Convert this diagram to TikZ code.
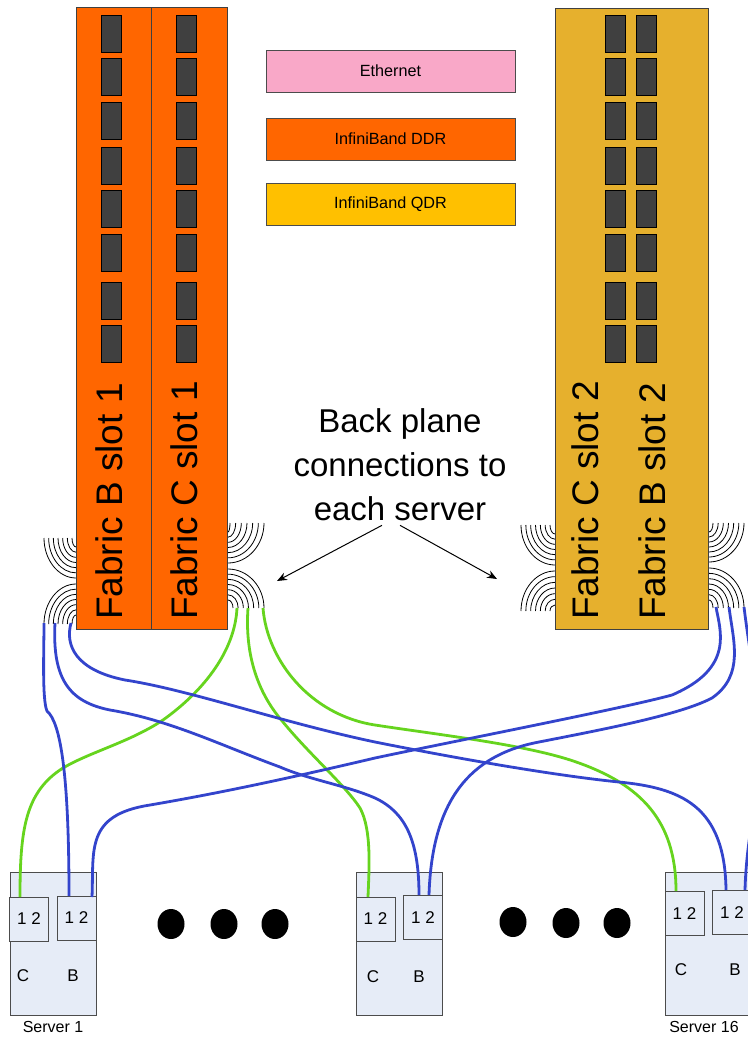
\documentclass[tikz,border=0pt]{standalone}
\usepackage{fontspec}
\setmainfont{Liberation Sans}
\definecolor{ddrorange}{HTML}{FF6600}
\definecolor{qdryellow}{HTML}{FFC000}
\definecolor{ethpink}{HTML}{F9A8C8}
\definecolor{bladegold}{HTML}{E6B02D}
\definecolor{slotgray}{HTML}{404040}
\definecolor{serverblue}{HTML}{E6ECF7}
\definecolor{cablegreen}{HTML}{66D41E}
\definecolor{cableblue}{HTML}{3344CC}
\usetikzlibrary{shapes.geometric,arrows.meta}
\tikzset{
  legendbox/.style={draw=black!70,line width=0.6pt,minimum width=249pt,minimum height=42pt,inner sep=0pt,font=\fontsize{16.2}{18}\selectfont},
  bladelabel/.style={rotate=90,anchor=base west,inner sep=0pt,font=\fontsize{37}{40}\selectfont},
  serverbox/.style={draw=black!70,line width=0.8pt,fill=serverblue,minimum width=86pt,minimum height=143pt,inner sep=0pt},
  portbox/.style={draw=black!70,line width=0.8pt,fill=serverblue,minimum width=39pt,minimum height=44pt,inner sep=0pt,font=\fontsize{17}{18}\selectfont},
  plain/.style={inner sep=0pt,font=\fontsize{17}{18}\selectfont},
  dotmark/.style={ellipse,fill=black,minimum width=27pt,minimum height=30pt,inner sep=0pt},
  greencable/.style={draw=cablegreen,line width=2.8pt},
  bluecable/.style={draw=cableblue,line width=2.8pt},
  pointer/.style={-{Stealth[length=10pt,width=8pt]},line width=1pt},
}
% quarter curves from the blade edge: edge x, free y, free x inner/outer, edge y inner/outer
\newcommand{\plugfan}[6]{
  \foreach \i in {0,...,6}{
    \pgfmathsetmacro{\xa}{#3+(#4-#3)*\i/6}
    \pgfmathsetmacro{\yb}{#5+(#6-#5)*\i/6}
    \draw[line width=0.8pt] (\xa,#2) .. controls (\xa,{#2+0.55*(\yb-#2)}) and ({#1+0.55*(\xa-#1)},\yb) .. (#1,\yb);
  }
}
\begin{document}
\begin{tikzpicture}[x=1pt,y=-1pt]
\useasboundingbox (0,0) rectangle (747,1038);
% fans
\plugfan{76}{538}{72}{44}{547}{578}
\plugfan{76}{624}{72}{44}{615}{584}
\plugfan{228}{523}{230}{264}{532}{563}
\plugfan{228}{608}{233}{264}{600}{569}
\plugfan{555}{525}{550}{521}{534}{565}
\plugfan{555}{611}{550}{521}{605}{571}
\plugfan{709}{523}{713}{744}{532}{562}
\plugfan{709}{608}{713}{744}{600}{568}
% blades
\filldraw[fill=ddrorange,draw=black!75,line width=0.8pt] (76,7) rectangle (151,629);
\filldraw[fill=ddrorange,draw=black!75,line width=0.8pt] (151,7) rectangle (227,629);
\filldraw[fill=bladegold,draw=black!75,line width=0.8pt] (555,8) rectangle (708,629);
\foreach \y in {15,58,102,147,190,234,282,325}{
  \filldraw[fill=slotgray,draw=black,line width=0.8pt] (101,\y) rectangle ++(20,37);
  \filldraw[fill=slotgray,draw=black,line width=0.8pt] (176,\y) rectangle ++(20,37);
  \filldraw[fill=slotgray,draw=black,line width=0.8pt] (605,\y) rectangle ++(20,37);
  \filldraw[fill=slotgray,draw=black,line width=0.8pt] (636,\y) rectangle ++(20,37);
}
\node[bladelabel] (labelb1) at (122.5,620) {Fabric B slot 1};
\node[bladelabel] (labelc1) at (197.5,620) {Fabric C slot 1};
\node[bladelabel] (labelc2) at (598.5,620) {Fabric C slot 2};
\node[bladelabel] (labelb2) at (665.5,620) {Fabric B slot 2};
% legend
\node[legendbox,fill=ethpink] (ethernet) at (390.5,71) {Ethernet};
\node[legendbox,fill=ddrorange] (ddr) at (390.5,139) {InfiniBand DDR};
\node[legendbox,fill=qdryellow] (qdr) at (390.5,204) {InfiniBand QDR};
% back plane
\node[align=center,inner sep=0pt,font=\fontsize{33}{44}\selectfont] (backplane) at (400,465) {Back plane\\connections to\\each server};
\coordinate (ptrleft) at (277,581);
\coordinate (ptrright) at (497,579);
\draw[pointer] ([xshift=-18pt,yshift=-4pt]backplane.south) -- (ptrleft);
\draw[pointer] ([yshift=-4pt]backplane.south) -- (ptrright);
% servers
\node[serverbox] (server1) at (53,943.5) {};
\node[serverbox] (server8) at (399,943.5) {};
\node[serverbox] (server16) at (708,943.5) {};
\node[portbox] (s1c) at (29,919) {1 2};
\node[portbox] (s1b) at (76.5,918) {1 2};
\node[portbox] (s8c) at (375.5,919) {1 2};
\node[portbox] (s8b) at (423,917.5) {1 2};
\node[portbox] (s16c) at (684.5,913.5) {1 2};
\node[portbox] (s16b) at (732,912.5) {1 2};
\node[plain] (s1cname) at (23,976) {C};
\node[plain] (s1bname) at (73,976) {B};
\node[plain] (s8cname) at (373,977) {C};
\node[plain] (s8bname) at (419,977) {B};
\node[plain] (s16cname) at (681,970) {C};
\node[plain] (s16bname) at (735,970) {B};
\node[plain,font=\fontsize{16}{18}\selectfont] (s1name) at (53,1027) {Server 1};
\node[plain,font=\fontsize{16}{18}\selectfont] (s16name) at (704,1027) {Server 16};
\node[dotmark] (dota) at (171,924) {};
\node[dotmark] (dotb) at (224,924) {};
\node[dotmark] (dotc) at (275,924) {};
\node[dotmark] (dotd) at (513,922) {};
\node[dotmark] (dote) at (566,923) {};
\node[dotmark] (dotf) at (617,923) {};
% cable ends
\coordinate (gl1) at (237,608);
\coordinate (gl2) at (248,608);
\coordinate (gl3) at (263,608);
\coordinate (bl1) at (44,623);
\coordinate (bl2) at (55,623);
\coordinate (bl3) at (71,623);
\coordinate (br1) at (716,607);
\coordinate (br2) at (729,607);
\coordinate (br3) at (744,607);
\coordinate (brout) at (760,720);
\coordinate (s1c1) at (20,897);
\coordinate (s1b1) at (69,896);
\coordinate (s1b2) at (92,897);
\coordinate (s8c1) at (368,897);
\coordinate (s8b1) at (419,895);
\coordinate (s8b2) at (429,895);
\coordinate (s16c1) at (676,891);
\coordinate (s16b1) at (726,890);
\coordinate (s16b2) at (745,890);
% cables
\draw[greencable] (gl1) .. controls (235,650) and (205,690) .. (163,720) .. controls (130,742) and (90,752) .. (63,768) .. controls (25,792) and (20,830) .. (s1c1);
\draw[greencable] (gl2) .. controls (245,650) and (255,690) .. (283,722) .. controls (310,755) and (345,785) .. (360,808) .. controls (372,830) and (369,870) .. (s8c1);
\draw[greencable] (gl3) .. controls (267,660) and (310,715) .. (375,725) .. controls (440,735) and (530,745) .. (579,763) .. controls (640,785) and (676,820) .. (s16c1);
\draw[bluecable] (bl1) .. controls (44,650) and (42,700) .. (47,711) .. controls (60,722) and (69,770) .. (s1b1);
\draw[bluecable] (bl2) .. controls (52,680) and (70,702) .. (110,710) .. controls (170,720) and (220,745) .. (280,767) .. controls (310,780) and (345,785) .. (375,798) .. controls (405,812) and (419,840) .. (s8b1);
\draw[bluecable] (bl3) .. controls (65,645) and (75,670) .. (125,680) .. controls (190,690) and (280,722) .. (375,742) .. controls (450,757) and (550,775) .. (619,782) .. controls (680,788) and (725,805) .. (s16b1);
\draw[bluecable] (br1) .. controls (720,630) and (735,668) .. (672,695) .. controls (625,708) and (450,742) .. (375,758) .. controls (290,778) and (220,793) .. (150,805) .. controls (85,815) and (94,850) .. (s1b2);
\draw[bluecable] (br2) .. controls (733,640) and (745,675) .. (712,698) .. controls (680,715) and (600,730) .. (539,742) .. controls (470,755) and (432,800) .. (s8b2);
\draw[bluecable] (br3) .. controls (748,640) and (755,680) .. (brout) .. controls (765,780) and (747,820) .. (s16b2);
\end{tikzpicture}
\end{document}
